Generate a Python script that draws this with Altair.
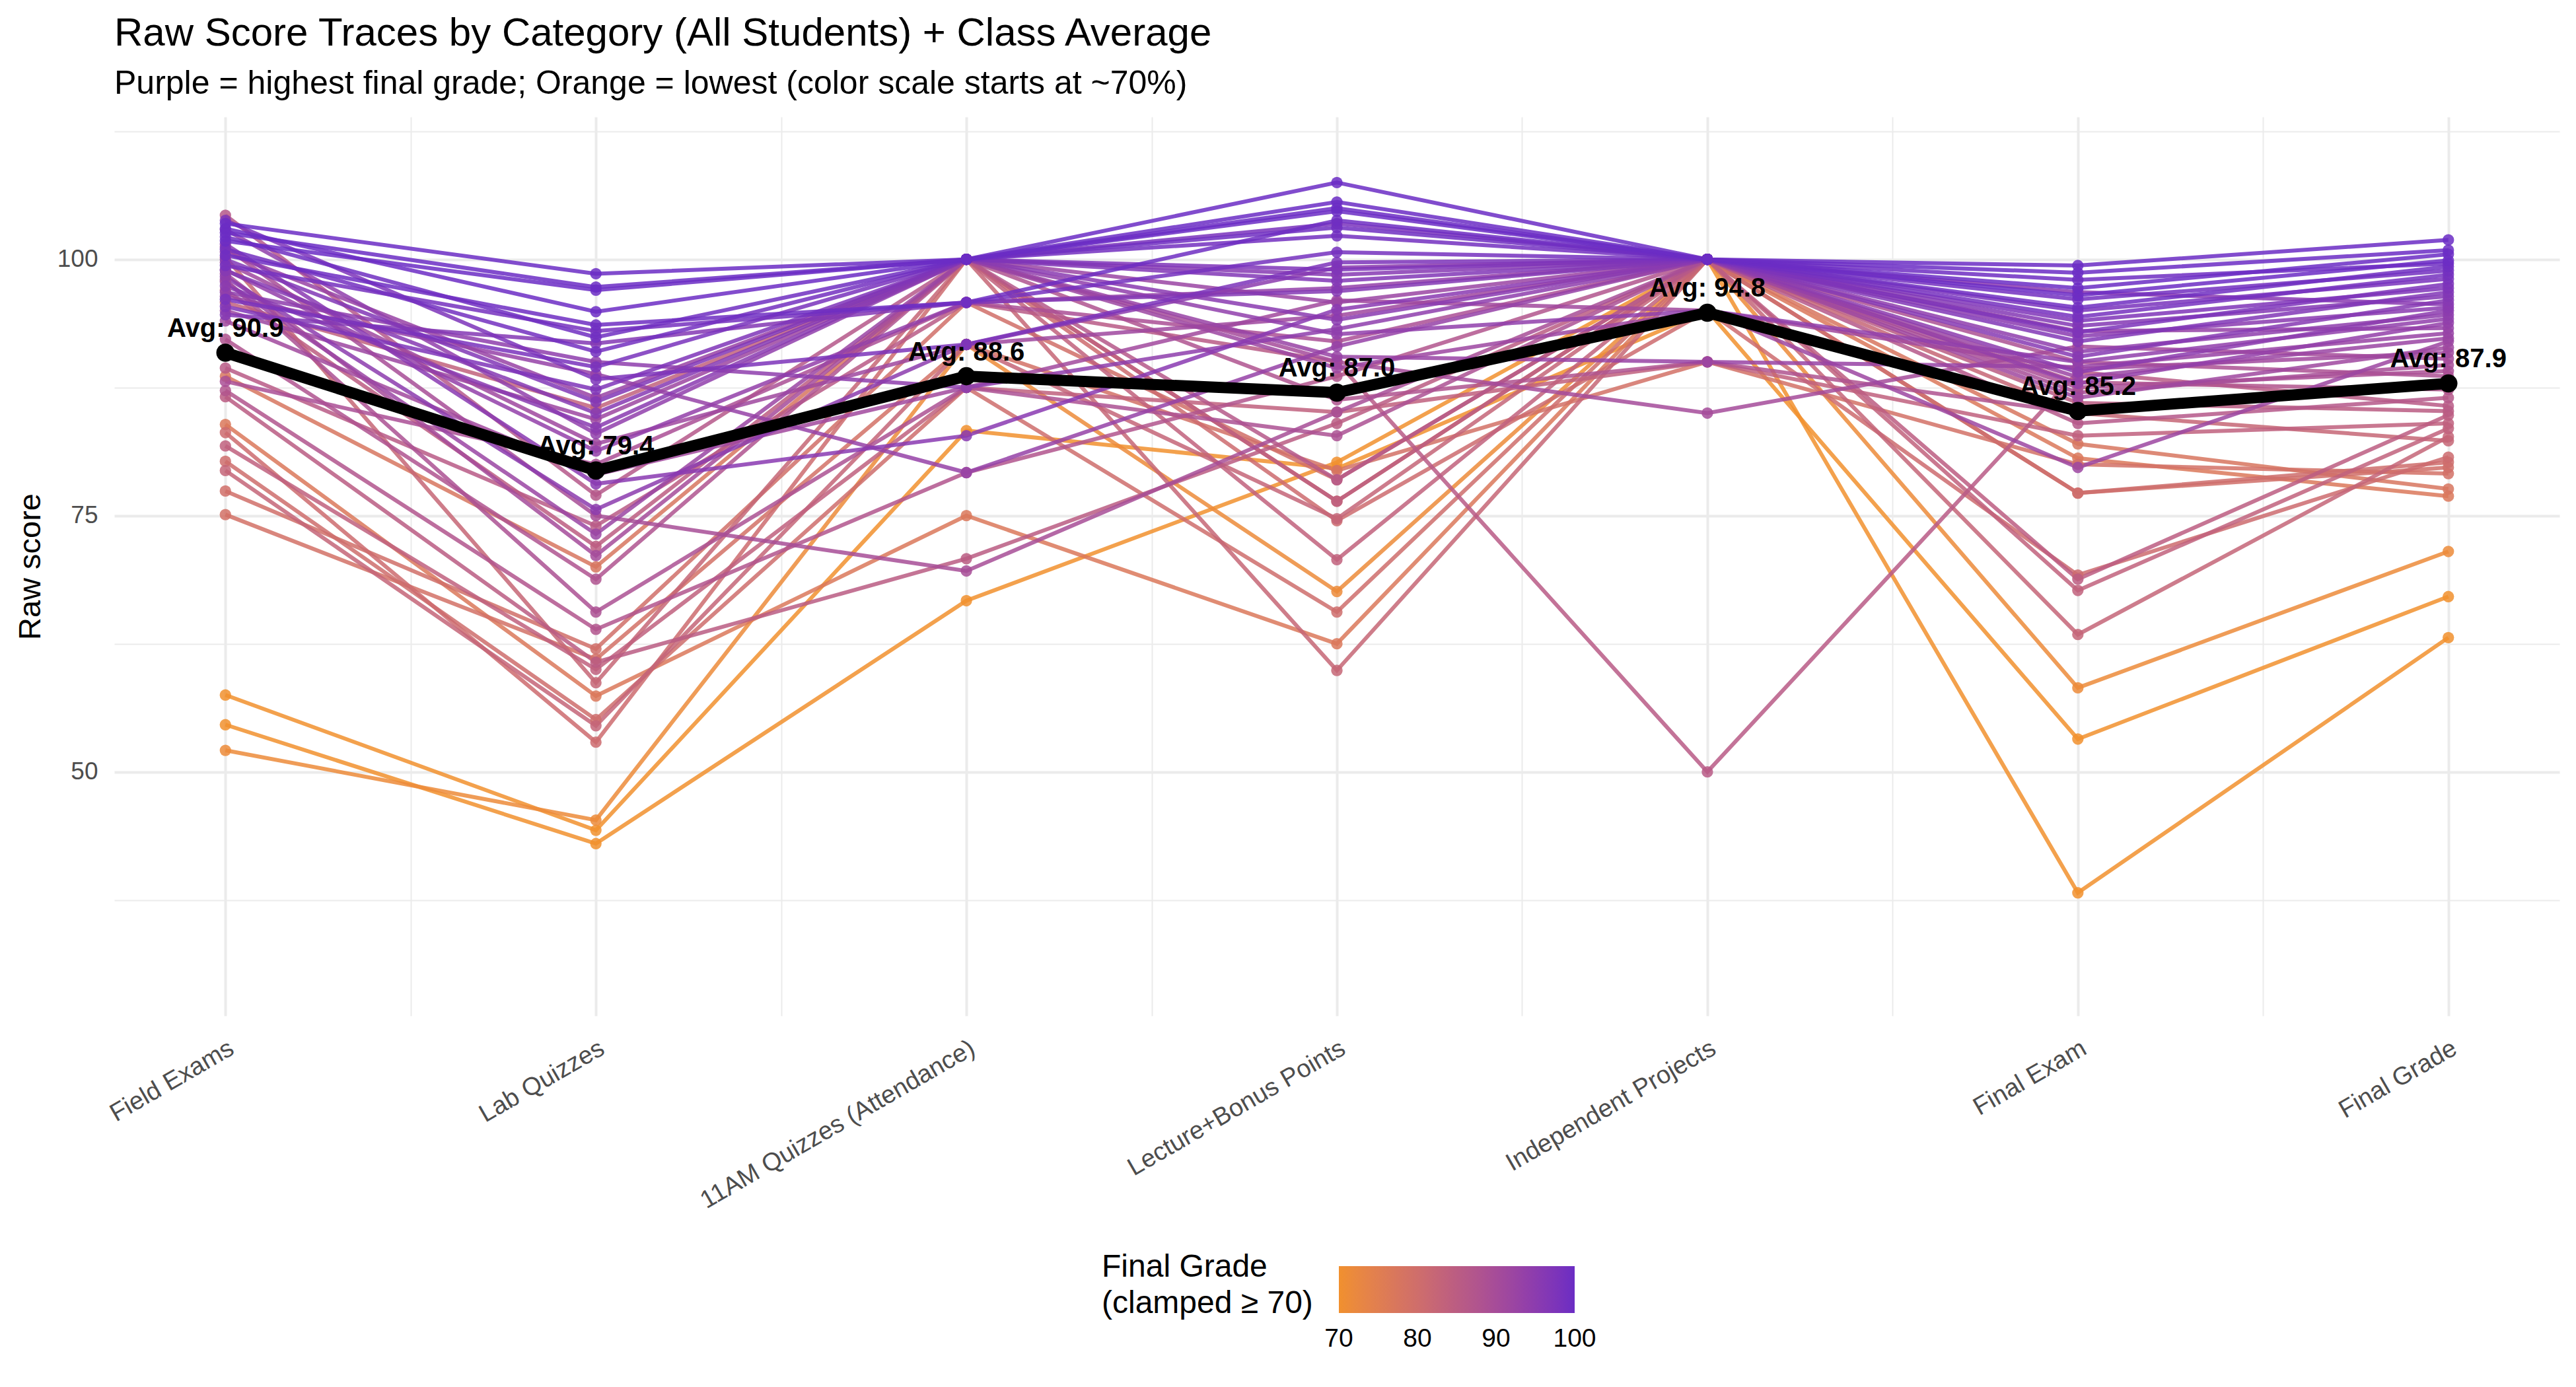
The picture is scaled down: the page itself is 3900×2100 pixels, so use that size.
import json
import altair as alt
import pandas as pd

categories = ["Field Exams", "Lab Quizzes", "11AM Quizzes (Attendance)",
              "Lecture+Bonus Points", "Independent Projects", "Final Exam", "Final Grade"]

# one entry per student (sorted by final grade, highest first)
field_exams = [102.6, 103.5, 101.8, 103.0, 100.4, 102.2, 101.0, 99.4, 96.1, 103.8,
               95.4, 100.0, 94.6, 98.9, 101.5, 97.4, 98.3, 96.8, 102.9, 99.0,
               96.4, 100.7, 97.8, 95.0, 99.7, 94.0, 98.6, 101.2, 88.1, 98.0,
               92.2, 87.2, 104.3, 89.4, 86.6, 97.0, 81.8, 95.8, 79.4, 100.2,
               83.1, 80.3, 77.4, 75.1, 88.6, 83.9, 52.1, 57.5, 54.6]
lab_quizzes = [97.3, 98.6, 97.0, 94.9, 93.6, 92.4, 91.0, 93.0, 89.5, 88.3,
               87.3, 86.1, 91.8, 85.0, 78.1, 83.6, 75.6, 90.0, 83.0, 81.3,
               88.8, 86.5, 73.2, 84.4, 82.0, 79.0, 71.1, 75.0, 80.0, 65.6,
               68.8, 63.9, 77.0, 74.0, 60.7, 72.0, 60.0, 85.5, 54.5, 58.7,
               52.9, 55.1, 62.0, 61.0, 70.0, 57.4, 45.3, 44.3, 43.0]
am_quizzes = [100.0, 100.0, 100.0, 100.0, 95.8, 100.0, 100.0, 95.8, 100.0, 91.7,
              100.0, 100.0, 95.8, 100.0, 82.8, 100.0, 91.7, 87.5, 100.0, 95.8,
              79.2, 100.0, 100.0, 100.0, 91.7, 87.5, 100.0, 69.6, 95.8, 87.5,
              100.0, 79.2, 100.0, 95.8, 70.8, 100.0, 87.5, 100.0, 91.7, 100.0,
              100.0, 87.5, 95.8, 91.7, 100.0, 75.0, 91.7, 83.3, 66.7]
lecture_bonus = [107.5, 105.6, 104.7, 105.0, 103.8, 103.1, 102.3, 100.7, 103.5, 99.7,
                 99.0, 97.9, 96.9, 98.5, 95.1, 94.1, 99.2, 93.2, 92.7, 97.2,
                 91.5, 90.5, 95.8, 89.4, 94.5, 96.0, 90.0, 85.1, 92.0, 82.8,
                 86.3, 88.6, 78.5, 90.0, 84.0, 76.4, 85.1, 70.7, 74.7, 59.9,
                 74.5, 65.6, 78.5, 79.4, 76.4, 62.5, 67.6, 79.6, 80.2]
independent_projects = [100, 100, 100, 100, 100, 100, 100, 100, 100, 100,
                        100, 100, 100, 100, 100, 100, 100, 100, 95, 100,
                        100, 90, 100, 95, 100, 95, 85, 100, 100, 100,
                        90, 100, 100, 50, 100, 100, 90, 100, 100, 100,
                        95, 100, 100, 90, 100, 100, 100, 95, 100]
final_exam = [99.4, 98.7, 97.2, 96.5, 98.0, 95.3, 96.1, 94.4, 95.0, 92.9,
              94.0, 92.0, 93.5, 90.5, 96.8, 92.5, 89.0, 91.0, 90.0, 87.9,
              93.0, 89.5, 88.5, 79.7, 86.5, 89.3, 91.5, 87.0, 87.5, 90.0,
              85.0, 88.0, 84.0, 89.0, 86.0, 68.8, 82.8, 67.7, 63.4, 85.0,
              69.2, 77.2, 77.2, 80.0, 82.0, 80.6, 58.2, 53.2, 38.2]
final_grade = [101.9, 100.9, 100.5, 99.9, 99.6, 99.3, 98.9, 98.5, 98.1, 97.6,
               97.2, 96.8, 96.4, 96.0, 95.6, 95.3, 95.0, 94.6, 94.2, 93.8,
               93.3, 92.8, 92.3, 92.0, 91.4, 90.9, 90.3, 89.7, 89.1, 88.6,
               87.8, 87.3, 86.5, 85.7, 85.2, 84.8, 84.0, 83.5, 82.7, 82.3,
               80.7, 80.2, 79.7, 79.1, 77.6, 76.9, 71.5, 67.1, 63.1]

avg_scores = [90.9, 79.4, 88.6, 87.0, 94.8, 85.2, 87.9]

legend_ticks = [70, 80, 90, 100]
color_range = ["#F1902E", "#6B2DC4"]

series = [field_exams, lab_quizzes, am_quizzes, lecture_bonus,
          independent_projects, final_exam, final_grade]
n_students = len(final_grade)

rows = []
# draw lowest grades first so purple traces sit on top
for s in reversed(range(n_students)):
    for ci, cat in enumerate(categories):
        rows.append({"student": n_students - s, "cat_idx": ci, "category": cat,
                     "score": series[ci][s], "grade": final_grade[s]})
df = pd.DataFrame(rows)

avg_df = pd.DataFrame({"cat_idx": list(range(len(categories))),
                       "category": categories,
                       "avg": avg_scores,
                       "label": [f"Avg: {v:.1f}" for v in avg_scores]})

FONT = "Liberation Sans"
GRID = "#EBEBEB"

x_values = [i * 0.5 for i in range(2 * len(categories) - 1)]
x_label_expr = ("datum.value % 1 === 0 ? " + json.dumps(categories) +
                "[datum.value] : ''")

x_enc = alt.X("cat_idx:Q",
              scale=alt.Scale(domain=[-0.3, len(categories) - 0.7], nice=False, zero=False),
              axis=alt.Axis(values=x_values, labelExpr=x_label_expr, title=None,
                            ticks=False, tickSize=0, domain=False,
                            labelAngle=330, labelAlign="right", labelBaseline="top",
                            labelFontSize=38, labelColor="#4D4D4D", labelFont=FONT,
                            labelPadding=30, labelOverlap=False, labelFlush=False,
                            labelBound=False, labelLimit=2000,
                            gridColor=GRID,
                            gridWidth={"condition": {"test": "datum.value % 1 === 0", "value": 4},
                                       "value": 2}))

y_values = [25 + 12.5 * i for i in range(8)]
y_scale = alt.Scale(domain=[26.2, 113.9], nice=False, zero=False)
y_axis = alt.Axis(values=y_values, labelExpr="datum.value % 25 === 0 ? datum.label : ''",
                  title="Raw score", titleFontSize=47, titleFont=FONT, titleFontWeight="normal",
                  titleColor="black", titlePadding=16,
                  ticks=False, tickSize=0, domain=False,
                  labelFontSize=37, labelColor="#4D4D4D", labelFont=FONT, labelPadding=25,
                  labelOverlap=False,
                  gridColor=GRID,
                  gridWidth={"condition": {"test": "datum.value % 25 === 0", "value": 4},
                             "value": 2})

def grade_scale():
    return alt.Scale(domain=[70, 100], range=color_range, clamp=True, interpolate="lab")

# nudge end ticks a hair inside the domain so the end labels are centred like the others
legend_values = [legend_ticks[0] + 1e-4] + legend_ticks[1:-1] + [legend_ticks[-1] - 1e-4]

grade_legend = alt.Legend(type="gradient",
                          title=["Final Grade", "(clamped \u2265 70)"],
                          orient="none", direction="horizontal",
                          legendX=1495, legendY=1740,
                          titleOrient="left", titleAnchor="end",
                          titleBaseline="alphabetic",
                          titleFontSize=48, titleFont=FONT,
                          titleFontWeight="normal", titleColor="black",
                          titleLineHeight=55, titlePadding=39,
                          titleLimit=2000,
                          gradientLength=357, gradientThickness=71,
                          gradientStrokeWidth=0, gradientOpacity=1,
                          values=legend_values, format=".0f",
                          labelFontSize=39, labelFont=FONT, labelColor="black",
                          labelOffset=20, labelOverlap=False)

base = alt.Chart(df)

lines = base.mark_line(strokeWidth=6, opacity=0.85).encode(
    x=x_enc,
    y=alt.Y("score:Q", scale=y_scale, axis=y_axis),
    color=alt.Color("grade:Q", scale=grade_scale(), legend=grade_legend),
    detail="student:N",
    order="cat_idx:Q",
)

points = base.mark_circle(size=300, opacity=0.85).encode(
    x=alt.X("cat_idx:Q"),
    y=alt.Y("score:Q"),
    color=alt.Color("grade:Q", scale=grade_scale(), legend=None),
)

avg_base = alt.Chart(avg_df)
avg_line = avg_base.mark_line(color="black", strokeWidth=17).encode(
    x="cat_idx:Q", y="avg:Q")
avg_pts = avg_base.mark_circle(color="black", size=760, opacity=1).encode(
    x="cat_idx:Q", y="avg:Q")
avg_text = avg_base.mark_text(font=FONT, fontSize=40, fontWeight="bold", color="black",
                              baseline="middle", align="center", dy=-36).encode(
    x="cat_idx:Q", y="avg:Q", text="label:N")

chart = alt.layer(lines, points, avg_line, avg_pts, avg_text).resolve_scale(
    color="independent"
).properties(
    width=3702, height=1361,
    title=alt.TitleParams(
        text="Raw Score Traces by Category (All Students) + Class Average",
        subtitle="Purple = highest final grade; Orange = lowest (color scale starts at ~70%)",
        anchor="start", frame="group", font=FONT, fontSize=60, fontWeight="normal",
        color="black", subtitleFont=FONT, subtitleFontSize=50, subtitleColor="black",
        subtitlePadding=20, offset=24),
    autosize=alt.AutoSizeParams(type="none"),
    padding={"left": 173, "top": 177, "right": 25, "bottom": 562},
    background="white",
).configure_view(stroke=None)

chart.save("out.html", embed_options={"renderer": "svg", "actions": False})
